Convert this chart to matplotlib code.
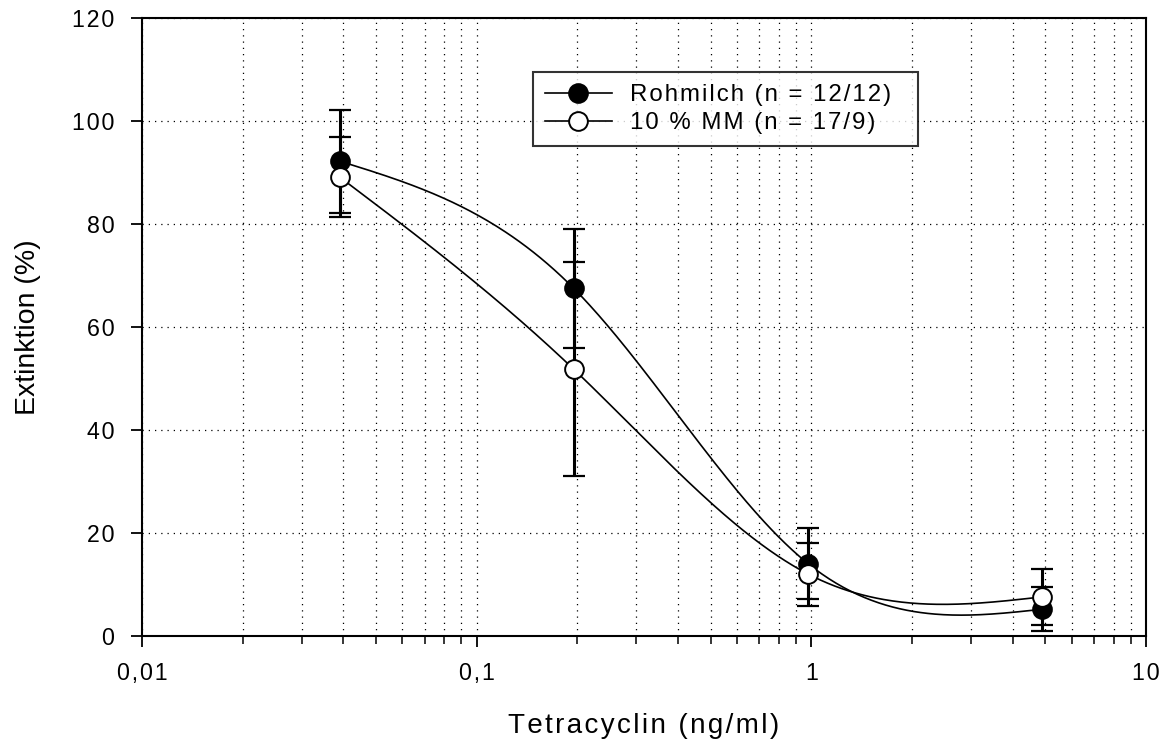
import numpy as np
import matplotlib
matplotlib.use("Agg")
import matplotlib.pyplot as plt
from matplotlib.ticker import FixedLocator, NullFormatter, LogLocator

# Data
conc = [0.039, 0.195, 0.98, 4.9]
roh_mean = [92.2, 67.5, 14.0, 5.2]
roh_err = [10.0, 11.5, 6.9, 4.3]
mm_mean = [89.1, 51.8, 12.0, 7.6]
mm_err = [7.7, 20.8, 6.1, 5.5]
labels = ["Rohmilch (n = 12/12)", "10 % MM (n = 17/9)"]
xticks = [0.01, 0.1, 1, 10]
xticklabels = ["0,01", "0,1", "1", "10"]
yticks = [0, 20, 40, 60, 80, 100, 120]

HS = "\u200a"


def spaced(s):
    return HS.join(s)


def natural_spline(xk, yk, xs):
    xk = np.asarray(xk, float); yk = np.asarray(yk, float)
    n = len(xk)
    h = np.diff(xk)
    A = np.zeros((n, n)); b = np.zeros(n)
    A[0, 0] = 1; A[-1, -1] = 1
    for i in range(1, n - 1):
        A[i, i - 1] = h[i - 1]
        A[i, i] = 2 * (h[i - 1] + h[i])
        A[i, i + 1] = h[i]
        b[i] = 3 * ((yk[i + 1] - yk[i]) / h[i] - (yk[i] - yk[i - 1]) / h[i - 1])
    c = np.linalg.solve(A, b)
    out = np.empty_like(xs)
    for j, x in enumerate(xs):
        i = min(max(np.searchsorted(xk, x) - 1, 0), n - 2)
        dx = x - xk[i]
        bb = (yk[i + 1] - yk[i]) / h[i] - h[i] * (2 * c[i] + c[i + 1]) / 3
        d = (c[i + 1] - c[i]) / (3 * h[i])
        out[j] = yk[i] + bb * dx + c[i] * dx ** 2 + d * dx ** 3
    return out


plt.rcParams['font.family'] = ['Liberation Sans', 'DejaVu Sans']

fig = plt.figure(figsize=(11.66, 7.40), dpi=100)
ax = fig.add_axes([142 / 1166, 1 - 636 / 740, (1146 - 142) / 1166, (636 - 18) / 740])

lx = np.log10(conc)
xs = np.linspace(lx[0], lx[-1], 400)

for mean, err, fc, lab, z in [(roh_mean, roh_err, 'black', labels[0], 3),
                              (mm_mean, mm_err, 'white', labels[1], 4)]:
    ys = natural_spline(lx, mean, xs)
    ax.plot(10 ** xs, ys, color='black', lw=1.2, zorder=z)
    ax.errorbar(conc, mean, yerr=err, fmt='none', ecolor='black', elinewidth=2.2,
                capsize=8, capthick=1.6, zorder=z)
    ax.plot(conc, mean, 'o', ms=13.5, mfc=fc, mec='black', mew=1.4, zorder=z + 0.5)
    ax.plot([], [], '-o', color='black', lw=1.2, ms=13.5, mfc=fc, mec='black', mew=1.4,
            label=spaced(lab))

ax.set_xscale('log')
ax.set_xlim(0.01, 10)
ax.set_ylim(0, 120)
ax.xaxis.set_major_locator(FixedLocator(xticks))
ax.set_xticklabels([spaced(t) for t in xticklabels])
ax.xaxis.set_minor_locator(LogLocator(base=10, subs=np.arange(2, 10)))
ax.xaxis.set_minor_formatter(NullFormatter())
ax.set_yticks(yticks)
ax.set_yticklabels([spaced(str(t)) for t in yticks])

ax.grid(True, which='both', axis='x', color='black', ls=(0, (1, 4)), lw=0.9)
ax.grid(True, which='major', axis='y', color='black', ls=(0, (1, 4)), lw=0.9)
ax.set_axisbelow(True)

for s in ax.spines.values():
    s.set_linewidth(1.5)

ax.tick_params(axis='both', which='major', direction='out', length=8, width=1.3,
               labelsize=16.7, colors='black')
ax.tick_params(axis='y', pad=12)
ax.tick_params(axis='x', pad=11)
ax.tick_params(axis='x', which='minor', direction='out', length=5.5, width=1.1)

ax.set_xlabel(spaced('Tetracyclin (ng/ml)'), fontsize=20, labelpad=20)
ax.set_ylabel('Extinktion (%)', fontsize=20.5, labelpad=22)

leg = ax.legend(loc='upper left', bbox_to_anchor=(0.389, 0.7945, 0.384, 0.118),
                mode='expand', frameon=True,
                fancybox=False, edgecolor='black', fontsize=17.3, handlelength=2.8,
                borderpad=0.5, labelspacing=0.26, handletextpad=0.75, borderaxespad=0)
leg.get_frame().set_linewidth(1.5)
leg.set_zorder(10)

fig.savefig('out.png', dpi=100)
